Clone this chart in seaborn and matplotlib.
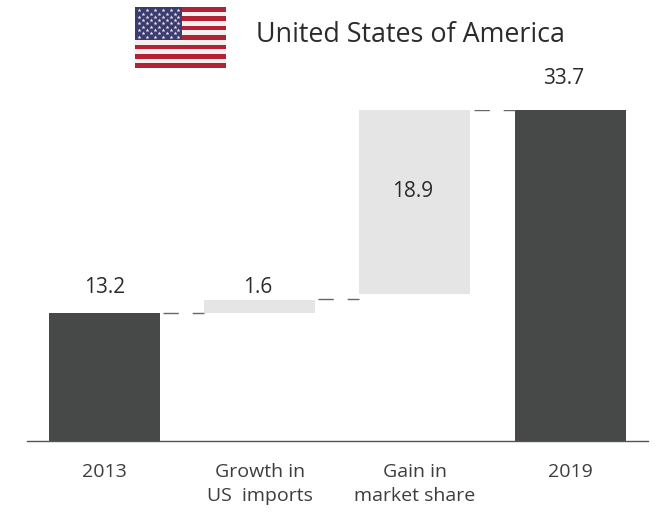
import matplotlib
matplotlib.use("Agg")
import matplotlib.pyplot as plt
import numpy as np
import pandas as pd
import seaborn as sns

categories = ["2013", "Growth in\nUS  imports", "Gain in\nmarket share", "2019"]
labels = ["13.2", "1.6", "18.9", "33.7"]
# bar extents
bar_bottoms = [0, 13.03, 14.97, 0]
bar_tops = [13.03, 14.36, 33.7, 33.7]
connector_levels = [13.0, 14.45, 33.7]

W, H = 659, 526
DARK = "#474948"
LIGHT = "#e4e5e4"
TEXT = "#3c3d3c"

sns.set_theme(style="white")
plt.rcParams["font.family"] = ["Open Sans", "DejaVu Sans"]

df = pd.DataFrame({
    "category": categories,
    "height": np.array(bar_tops) - np.array(bar_bottoms),
})

fig = plt.figure(figsize=(W / 100, H / 100), dpi=100)
ax = fig.add_axes([27 / W, 1 - 441 / H, 621 / W, 331 / H])

sns.barplot(
    data=df, x="category", y="height", color=DARK, saturation=1,
    bottom=bar_bottoms, width=0.715, linewidth=0, ax=ax,
)
ax.set_xlim(-0.497, 3.5)
ax.set_ylim(0, 33.7)
ax.set_xlabel("")
ax.set_ylabel("")
ax.set_yticks([])
sns.despine(ax=ax, left=True)
ax.spines["bottom"].set_color("#555555")
ax.spines["bottom"].set_linewidth(1)
ax.tick_params(axis="x", length=0, pad=15.5, labelsize=14, labelcolor=TEXT)
for tick in ax.get_xticklabels():
    tick.set_linespacing(1.45)

bars = sorted(ax.patches, key=lambda p: p.get_x())
for bar, colour in zip(bars, [DARK, LIGHT, LIGHT, DARK]):
    bar.set_facecolor(colour)

# dashed connectors between neighbouring bars
for left, right, level in zip(bars[:-1], bars[1:], connector_levels):
    ax.plot(
        [left.get_x() + left.get_width() + 0.02, right.get_x()], [level, level],
        color="#666666", lw=1, linestyle=(0, (11, 10)),
    )

# value labels, offset in points from the bar top
rises = [18.5, 9, -58.5, 22.5]
nudges = [0, -1.5, -1.5, -5]
for bar, text, rise, nudge in zip(bars, labels, rises, nudges):
    ax.annotate(
        text, (bar.get_x() + bar.get_width() / 2, bar.get_y() + bar.get_height()),
        xytext=(nudge, rise), textcoords="offset points",
        ha="center", va="center", fontsize=15, color="#2b2b2b",
        annotation_clip=False,
    )

fig.text(410.5 / W, 1 - 35 / H, "United States of America", ha="center", va="center",
         fontsize=19.4, color="#2b2b2b")

# flag
flag = fig.add_axes([135 / W, 1 - 68 / H, 91 / W, 61 / H])
flag.set_xlim(0, 1)
flag.set_ylim(13, 0)
flag.axis("off")
for row in range(13):
    flag.axhspan(row, row + 1, color="#b22234" if row % 2 == 0 else "#f4f0f0", lw=0)
flag.axhspan(0, 7, xmin=0, xmax=0.52, color="#3c3b6e", lw=0)
star_x, star_y = [], []
for row in range(9):
    count = 6 if row % 2 == 0 else 5
    start = 0.043 if row % 2 == 0 else 0.087
    for col in range(count):
        star_x.append(start + col * 0.087)
        star_y.append(0.7 + row * 0.7)
flag.scatter(star_x, star_y, marker="*", s=9, color="#e8e8f0", linewidths=0)

fig.savefig("out.png", dpi=100, facecolor="white")
